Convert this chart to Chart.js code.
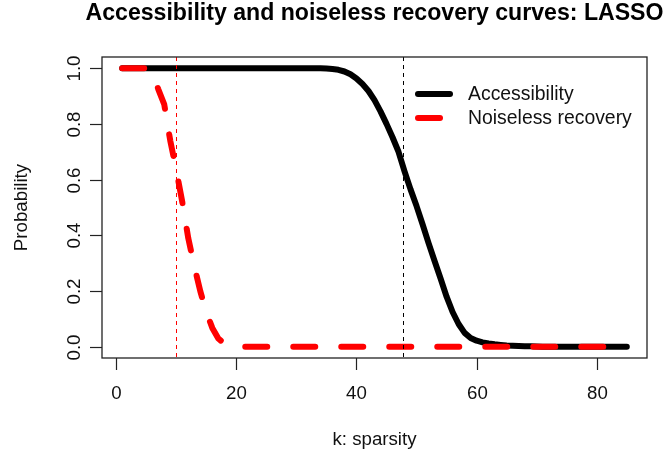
<!DOCTYPE html>
<html>
<head>
<meta charset="utf-8">
<script src="https://cdn.jsdelivr.net/npm/chart.js@4.4.1/dist/chart.umd.min.js"></script>
<style>
  html, body { margin: 0; padding: 0; background: #ffffff; }
  #wrap { width: 665px; height: 458px; position: relative; }
</style>
</head>
<body>
<div id="wrap"><canvas id="c" width="665" height="458"></canvas></div>
<script>
// ---------------- data ----------------
const titleText = "Accessibility and noiseless recovery curves: LASSO";
const xTitle = "k: sparsity";
const yTitle = "Probability";
const seriesNames = ["Accessibility", "Noiseless recovery"];

const kValues = [1,2,3,4,5,6,7,8,9,10,11,12,13,14,15,16,17,18,19,20,
  21,22,23,24,25,26,27,28,29,30,31,32,33,34,35,36,37,38,39,40,
  41,42,43,44,45,46,47,48,49,50,51,52,53,54,55,56,57,58,59,60,
  61,62,63,64,65,66,67,68,69,70,71,72,73,74,75,76,77,78,79,80,
  81,82,83,84,85];

const accessibility = [1,1,1,1,1,1,1,1,1,1,1,1,1,1,1,1,1,1,1,1,
  1,1,1,1,1,1,1,1,1,1,1,1,1,1,0.999,0.997,0.994,0.988,0.978,0.963,
  0.943,0.918,0.885,0.845,0.800,0.752,0.700,0.630,0.565,0.505,0.440,0.372,0.308,0.245,0.180,0.125,0.082,0.050,0.032,0.022,
  0.016,0.012,0.009,0.007,0.005,0.004,0.003,0.002,0.002,0.001,0,0,0,0,0,0,0,0,0,0,
  0,0,0,0,0];

const noiselessRecovery = [1,1,1,1,1,0.985,0.925,0.870,0.740,0.635,0.520,0.390,0.290,0.200,0.125,0.068,0.030,0.012,0.004,0,
  0,0,0,0,0,0,0,0,0,0,0,0,0,0,0,0,0,0,0,0,
  0,0,0,0,0,0,0,0,0,0,0,0,0,0,0,0,0,0,0,0,
  0,0,0,0,0,0,0,0,0,0,0,0,0,0,0,0,0,0,0,0,
  0,0,0,0,0];

const xTicks = [0, 20, 40, 60, 80];
const yTicks = [0, 0.2, 0.4, 0.6, 0.8, 1.0];
const yTickLabels = ["0.0", "0.2", "0.4", "0.6", "0.8", "1.0"];
const vLineRed = 10;      // red dashed reference line
const vLineBlack = 47.7;  // black dashed reference line

// ---------------- chart ----------------
const FONT = "'Liberation Sans', Arial, Helvetica, sans-serif";
const points = (ys) => kValues.map((k, i) => ({ x: k, y: ys[i] }));

const rPlot = {
  id: 'rPlot',
  afterDatasetsDraw(chart) {
    const ctx = chart.ctx, a = chart.chartArea, xs = chart.scales.x;
    ctx.save();
    ctx.lineWidth = 1;
    ctx.setLineDash([4, 4]);
    [[vLineRed, '#ff0000'], [vLineBlack, '#000000']].forEach(([v, col]) => {
      const px = Math.round(xs.getPixelForValue(v)) + 0.5;
      ctx.strokeStyle = col;
      ctx.beginPath(); ctx.moveTo(px, a.top); ctx.lineTo(px, a.bottom); ctx.stroke();
    });
    ctx.restore();
  },
  afterDraw(chart) {
    const ctx = chart.ctx, a = chart.chartArea;
    const xs = chart.scales.x, ys = chart.scales.y;
    ctx.save();
    // box
    ctx.strokeStyle = '#222'; ctx.lineWidth = 1.3; ctx.setLineDash([]);
    ctx.strokeRect(a.left, a.top, a.right - a.left, a.bottom - a.top);
    // x axis ticks + labels
    ctx.fillStyle = '#111';
    ctx.font = "18.7px " + FONT;
    ctx.textAlign = 'center'; ctx.textBaseline = 'middle';
    ctx.lineWidth = 1.2;
    xTicks.forEach(v => {
      const px = Math.round(xs.getPixelForValue(v)) + 0.5;
      ctx.beginPath(); ctx.moveTo(px, a.bottom); ctx.lineTo(px, a.bottom + 12); ctx.stroke();
      ctx.fillText(String(v), px, a.bottom + 36);
    });
    // y axis ticks + labels (rotated)
    yTicks.forEach((v, i) => {
      const py = Math.round(ys.getPixelForValue(v)) + 0.5;
      ctx.beginPath(); ctx.moveTo(a.left, py); ctx.lineTo(a.left - 12, py); ctx.stroke();
      ctx.save();
      ctx.translate(a.left - 27, py);
      ctx.rotate(-Math.PI / 2);
      ctx.fillText(yTickLabels[i], 0, 0);
      ctx.restore();
    });
    // axis titles
    const cx = (a.left + a.right) / 2, cy = (a.top + a.bottom) / 2;
    ctx.fillText(xTitle, cx, 440);
    ctx.save(); ctx.translate(22, cy); ctx.rotate(-Math.PI / 2); ctx.fillText(yTitle, 0, 0); ctx.restore();
    // title (bold)
    ctx.font = "bold 100px " + FONT;
    const w = ctx.measureText(titleText).width;
    const size = 100 * 578 / w;
    ctx.font = "bold " + size.toFixed(2) + "px " + FONT;
    ctx.fillStyle = '#000';
    ctx.fillText(titleText, cx, 14);
    // legend
    ctx.lineCap = 'round'; ctx.lineWidth = 6;
    ctx.strokeStyle = '#000'; ctx.setLineDash([]);
    ctx.beginPath(); ctx.moveTo(418, 94); ctx.lineTo(450, 94); ctx.stroke();
    ctx.strokeStyle = '#ff0000'; ctx.setLineDash([22, 26]);
    ctx.beginPath(); ctx.moveTo(418, 118); ctx.lineTo(450, 118); ctx.stroke();
    ctx.setLineDash([]);
    ctx.font = "19.4px " + FONT; ctx.fillStyle = '#111'; ctx.textAlign = 'left';
    ctx.fillText(seriesNames[0], 468, 95);
    ctx.fillText(seriesNames[1], 468, 119);
    ctx.restore();
  }
};

new Chart(document.getElementById('c'), {
  type: 'line',
  data: {
    datasets: [
      {
        label: seriesNames[0],
        data: points(accessibility),
        borderColor: '#000000',
        borderWidth: 6,
        borderCapStyle: 'round',
        borderJoinStyle: 'round',
        pointRadius: 0,
        tension: 0,
        fill: false,
        order: 2
      },
      {
        label: seriesNames[1],
        data: points(noiselessRecovery),
        borderColor: '#ff0000',
        borderWidth: 6,
        borderDash: [22, 26],
        borderCapStyle: 'round',
        borderJoinStyle: 'round',
        pointRadius: 0,
        tension: 0,
        fill: false,
        order: 1
      }
    ]
  },
  options: {
    responsive: false,
    animation: false,
    events: [],
    layout: { padding: { left: 102, top: 57, right: 18, bottom: 100 } },
    plugins: { legend: { display: false }, tooltip: { enabled: false }, title: { display: false } },
    scales: {
      x: { type: 'linear', min: -2.36, max: 88.36, display: false },
      y: { type: 'linear', min: -0.04, max: 1.04, display: false }
    }
  },
  plugins: [rPlot]
});
</script>
</body>
</html>
